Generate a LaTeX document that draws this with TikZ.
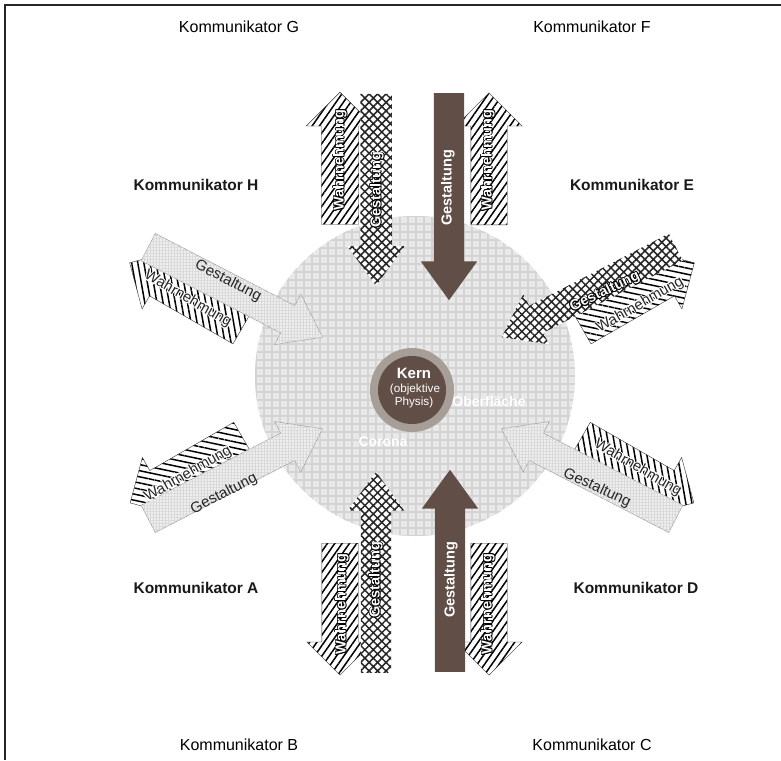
\documentclass[tikz,border=0pt]{standalone}
\usepackage{fontspec}
\setmainfont{Liberation Sans}
\usetikzlibrary{shapes.arrows,patterns.meta}
\definecolor{brownA}{RGB}{97,78,70}
\definecolor{kernring}{RGB}{168,158,152}
\definecolor{discbase}{RGB}{232,232,232}
\definecolor{discgrid}{RGB}{212,212,212}
\definecolor{lightarrow}{RGB}{238,238,238}
\newcommand\halo[3]{\leavevmode
  \rlap{\textcolor{#1}{\kern-#2#3}}\rlap{\textcolor{#1}{\kern#2#3}}%
  \rlap{\textcolor{#1}{\raisebox{#2}{#3}}}\rlap{\textcolor{#1}{\raisebox{-#2}{#3}}}%
  \rlap{\textcolor{#1}{\kern-#2\raisebox{#2}{#3}}}\rlap{\textcolor{#1}{\kern#2\raisebox{#2}{#3}}}%
  \rlap{\textcolor{#1}{\kern-#2\raisebox{-#2}{#3}}}\rlap{\textcolor{#1}{\kern#2\raisebox{-#2}{#3}}}%
  #3}
\begin{document}
\begin{tikzpicture}[x=1pt,y=-1pt,
  blockarrow/.style={single arrow, anchor=tail, inner xsep=0pt, single arrow head indent=0pt},
  wahr/.style={blockarrow, inner ysep=18pt, minimum width=66pt, single arrow head extend=15pt, single arrow tip angle=90,
     draw=black!80, line width=0.4pt, preaction={fill=white}, pattern color=black},
  gest/.style={blockarrow, inner ysep=15pt, minimum width=56pt, single arrow head extend=13pt, single arrow tip angle=72},
  hdiag/.style={pattern={Lines[angle=55,distance=6pt,line width=1.5pt]}},
  hvert/.style={pattern={Lines[angle=100,distance=6pt,line width=1.5pt]}},
  hhor/.style={pattern={Lines[angle=-12,distance=6pt,line width=1.5pt]}},
  cross/.style={gest, preaction={fill=white}, pattern={Hatch[angle=45,distance=6pt,line width=1.5pt]}, pattern color=black!85},
  gridarr/.style={gest, fill=lightarrow, draw=gray!75, line width=0.6pt,
     postaction={pattern={Hatch[angle=0,distance=3pt,line width=0.5pt]}, pattern color=gray!30}},
  brownarr/.style={gest, fill=brownA},
  komm/.style={font=\fontsize{16}{18}\selectfont, text=black},
  kommb/.style={font=\fontsize{15.5}{18}\selectfont\bfseries, text=black!90},
  twhite/.style={text=white, font=\fontsize{14.5}{16}\selectfont\bfseries, inner sep=0pt},
  tblack/.style={text=black!85, font=\fontsize{15}{16}\selectfont, inner sep=0pt},
]
\useasboundingbox (0,0) rectangle (781,760);
\fill[white] (0,0) rectangle (781,760);
% frame
\coordinate (fTR) at (781,5);
\coordinate (fTL) at (5,5);
\coordinate (fBL) at (5,760);
\draw[line width=1.8pt, black!85] (fTR) -- (fTL) -- (fBL);

% disc
\node[circle, minimum size=320pt, inner sep=0pt, fill=discbase,
  postaction={pattern={Hatch[angle=0,distance=8pt,line width=2.4pt]}, pattern color=discgrid}] (disc) at (415,376) {};
\node[circle, minimum size=84pt, inner sep=0pt, fill=kernring] (ring) at (412,390) {};
\node[circle, minimum size=68pt, inner sep=0pt, fill=brownA] (kern) at (412,390) {};
\node[text=white, font=\fontsize{15}{16}\selectfont\bfseries, inner sep=0pt] (kernA) at (414,373) {Kern};
\node[text=white, font=\fontsize{11.7}{13}\selectfont, inner sep=0pt] (kernB) at (415,389) {(objektive};
\node[text=white, font=\fontsize{11.7}{13}\selectfont, inner sep=0pt] (kernC) at (414,402) {Physis)};
\node[text=white, font=\fontsize{14}{16}\selectfont\bfseries, inner sep=0pt] (ober) at (489,401) {Oberfläche};
\node[text=white, font=\fontsize{14}{16}\selectfont\bfseries, inner sep=0pt] (corona) at (383,442) {Corona};

% G pair
\node[wahr, hdiag, rotate=90, minimum height=132pt] (wG) at (340,225) {};
\node[cross, rotate=-90, minimum height=192pt] (gG) at (376,93) {};
% F pair
\node[wahr, hdiag, rotate=90, minimum height=132pt] (wF) at (489,225) {};
\node[brownarr, rotate=-90, minimum height=207pt] (gF) at (449,93) {};
% B pair
\node[wahr, hdiag, rotate=-90, minimum height=132pt] (wB) at (340,543) {};
\node[cross, rotate=90, minimum height=201pt] (gB) at (376,673) {};
% C pair
\node[wahr, hdiag, rotate=-90, minimum height=132pt] (wC) at (489,543) {};
\node[brownarr, rotate=90, minimum height=202pt] (gC) at (450,672) {};
% H pair
\node[wahr, hvert, rotate=150.1, minimum height=130pt] (wH) at (243,328) {};
\node[gridarr, rotate=-27.35, minimum height=196pt] (gH) at (148,247) {};
% E pair
\node[wahr, hhor, rotate=29.9, minimum height=130pt] (wE) at (581,328) {};
\node[cross, rotate=-152.65, minimum height=196pt] (gE) at (676,247) {};
% D pair
\node[wahr, hvert, rotate=-29.9, minimum height=130pt] (wD) at (581,438) {};
\node[gridarr, rotate=152.65, minimum height=196pt] (gD) at (676,519) {};
% A pair
\node[wahr, hhor, rotate=-150.1, minimum height=130pt] (wA) at (243,438) {};
\node[gridarr, rotate=27.35, minimum height=196pt] (gA) at (148,519) {};

% arrow texts
\node[twhite, rotate=90] (twG) at (340,160) {\halo{black}{0.7pt}{Wahrnehmung}};
\node[twhite, rotate=90] (tgG) at (377,190) {\halo{black}{0.7pt}{Gestaltung}};
\node[twhite, rotate=90] (tgF) at (448,188) {Gestaltung};
\node[twhite, rotate=90] (twF) at (488,160) {\halo{black}{0.7pt}{Wahrnehmung}};
\node[twhite, rotate=90] (twB) at (342,604) {\halo{black}{0.7pt}{Wahrnehmung}};
\node[twhite, rotate=90] (tgB) at (376,580) {\halo{black}{0.7pt}{Gestaltung}};
\node[twhite, rotate=90] (tgC) at (451,580) {Gestaltung};
\node[twhite, rotate=90] (twC) at (488,604) {\halo{black}{0.7pt}{Wahrnehmung}};
\node[tblack, rotate=-27.35] (tgH) at (228,281) {Gestaltung};
\node[tblack, rotate=-30] (twH) at (188,299) {\halo{white}{0.9pt}{Wahrnehmung}};
\node[twhite, rotate=26] (tgE) at (605,292) {\halo{black}{0.7pt}{Gestaltung}};
\node[tblack, rotate=30] (twE) at (640,305) {\halo{white}{0.9pt}{Wahrnehmung}};
\node[tblack, rotate=-25] (tgD) at (597,488) {Gestaltung};
\node[tblack, rotate=-30] (twD) at (638,468) {\halo{white}{0.9pt}{Wahrnehmung}};
\node[tblack, rotate=27.35] (tgA) at (224,494) {Gestaltung};
\node[tblack, rotate=30] (twA) at (188,474) {\halo{white}{0.9pt}{Wahrnehmung}};

% Kommunikator labels
\node[komm] (kG) at (239,27) {Kommunikator G};
\node[komm] (kF) at (592,27) {Kommunikator F};
\node[kommb] (kH) at (196,185) {Kommunikator H};
\node[kommb] (kE) at (632,185) {Kommunikator E};
\node[kommb] (kA) at (196,588) {Kommunikator A};
\node[kommb] (kD) at (636,588) {Kommunikator D};
\node[komm] (kB) at (239,745) {Kommunikator B};
\node[komm] (kC) at (592,745) {Kommunikator C};
\end{tikzpicture}
\end{document}
